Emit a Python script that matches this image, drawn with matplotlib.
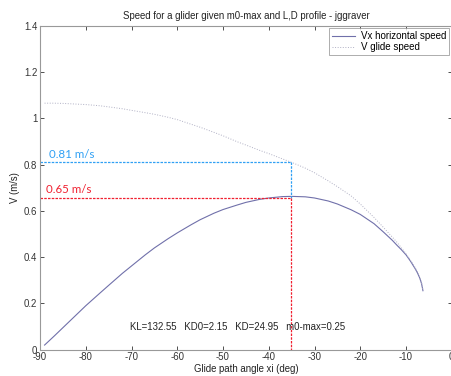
import numpy as np
import matplotlib.pyplot as plt

plt.rcParams['font.family'] = ['Liberation Sans', 'DejaVu Sans']
plt.rcParams['axes.unicode_minus'] = False

# glide path angle (deg) and read-off speeds (m/s)
xi = [-89, -87, -85, -82, -80, -77, -75, -72, -70, -67, -65, -62, -60, -57,
      -55, -52, -50, -47, -45, -42, -40, -37, -35, -32, -30, -27, -25, -22,
      -20, -17, -15, -13, -12, -11, -10, -9, -8, -7.5, -7, -6.6, -6.3]
v_glide = [1.066, 1.066, 1.065, 1.062, 1.060, 1.055, 1.050, 1.042, 1.035,
           1.025, 1.018, 1.005, 0.995, 0.975, 0.962, 0.940, 0.925, 0.900,
           0.885, 0.862, 0.848, 0.825, 0.810, 0.785, 0.765, 0.730, 0.705,
           0.665, 0.630, 0.572, 0.530, 0.487, 0.465, 0.440, 0.415, 0.386,
           0.355, 0.336, 0.315, 0.290, 0.258]
vx_horiz = [0.020, 0.057, 0.095, 0.152, 0.190, 0.243, 0.278, 0.330, 0.362,
            0.410, 0.440, 0.480, 0.505, 0.540, 0.562, 0.590, 0.606, 0.625,
            0.637, 0.650, 0.656, 0.662, 0.663, 0.661, 0.656, 0.643, 0.630,
            0.605, 0.585, 0.545, 0.510, 0.473, 0.452, 0.432, 0.410, 0.382,
            0.350, 0.332, 0.310, 0.285, 0.255]

xi_opt = -35.2
v_opt = 0.81
vx_opt = 0.656
params = "KL=132.55   KD0=2.15   KD=24.95   m0-max=0.25"

fig = plt.figure(figsize=(4.52, 3.76), dpi=100)
ax = fig.add_axes([0.0885, 0.070, 0.911, 0.861])

ax.plot(xi, vx_horiz, '-', color='#7070aa', lw=0.8, label='Vx horizontal speed')
ax.plot(xi, v_glide, ':', color='#b0b0c4', lw=0.7, label='V glide speed')

# marker lines at the optimum
blue = '#30a0f4'
red = '#f02030'
ax.plot([-90, xi_opt], [v_opt, v_opt], color=blue, ls=(0, (2, 1)), lw=0.9)
ax.plot([xi_opt, xi_opt], [v_opt, vx_opt], color=blue, ls=(0, (2, 1)), lw=0.9)
ax.plot([-90, xi_opt], [vx_opt, vx_opt], color=red, ls=(0, (2, 1)), lw=0.9)
ax.plot([xi_opt, xi_opt], [vx_opt, 0], color=red, ls=(0, (2, 1)), lw=0.9)
ax.text(-88.0, v_opt + 0.012, '%.2f m/s' % v_opt, color=blue, fontsize=8.3,
        family=['Lato', 'DejaVu Sans'], va='bottom')
ax.text(-88.7, vx_opt + 0.012, '%.2f m/s' % 0.65, color=red, fontsize=8.3,
        family=['Lato', 'DejaVu Sans'], va='bottom')

ax.text(-70.3, 0.1, params, fontsize=6.9, va='center', color='#222222')

ax.set_xlim(-90, 0)
ax.set_ylim(0, 1.4)
ax.set_xticks(np.arange(-90, 1, 10))
ax.set_yticks([0, 0.2, 0.4, 0.6, 0.8, 1, 1.2, 1.4])
ax.set_yticklabels(['0', '0.2', '0.4', '0.6', '0.8', '1', '1.2', '1.4'])
ax.tick_params(direction='in', top=True, right=True, length=3, width=0.6,
               labelsize=6.9, colors='#333333', pad=2)
for s in ax.spines.values():
    s.set_color('#999999')
    s.set_linewidth(0.8)

ax.set_title('Speed for a glider given m0-max and L,D profile - jggraver',
             fontsize=6.9, color='#222222', pad=5)
ax.set_xlabel('Glide path angle xi (deg)', fontsize=6.9, color='#222222', labelpad=1)
ax.set_ylabel('V (m/s)', fontsize=6.9, color='#222222', labelpad=3)

leg = ax.legend(loc='upper right', fontsize=7, frameon=True, fancybox=False,
                handlelength=2.4, borderaxespad=0.25, borderpad=0.3,
                labelspacing=0.1, handletextpad=0.6)
leg.get_frame().set_edgecolor('#888888')
leg.get_frame().set_linewidth(0.6)

fig.savefig('out.png', dpi=100)
